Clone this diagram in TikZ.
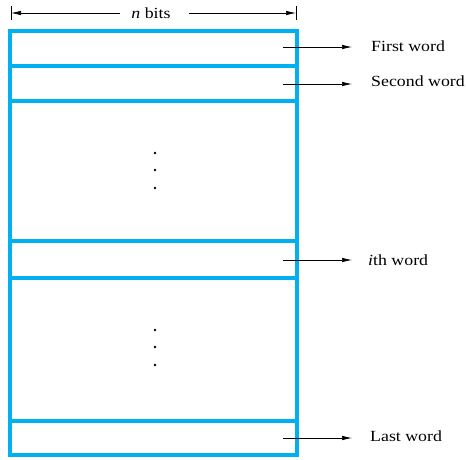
\documentclass[tikz,border=0pt]{standalone}
\usepackage{fontspec}
\setmainfont{Liberation Serif}[FakeStretch=1.15]
\usetikzlibrary{arrows.meta}
\definecolor{memblue}{RGB}{0,176,240}
\begin{document}
\begin{tikzpicture}[x=1pt,y=-1pt,
  wall/.style={draw=memblue,line width=3.6pt},
  ptr/.style={draw=black,line width=0.7pt,-{Latex[length=10pt,width=4.5pt]}},
  lbl/.style={anchor=west,inner sep=0pt,font=\fontsize{15.5}{18}\selectfont},
  dotmark/.style={circle,fill=black,inner sep=0pt,minimum size=2.8pt}]
\useasboundingbox (0,0) rectangle (466,459);
% memory rows
\draw[wall] (10,31) rectangle (297,455);
\foreach \yy in {66,101,241,278,421} \draw[wall] (10,\yy) -- (297,\yy);
% width indicator
\node[inner sep=1pt,font=\fontsize{15.5}{18}\selectfont] (nb) at (151,13) {\textit{n} bits};
\coordinate (lb) at (11,13);
\coordinate (rb) at (296,13);
\draw[line width=0.7pt] (11,6) -- (11,20);
\draw[line width=0.7pt] (296,6) -- (296,20);
\draw[ptr] (120,13) -- (lb);
\draw[ptr] (189,13) -- (rb);
% dots
\foreach \yy in {153,170,188,330,347,365} \node[dotmark] at (155,\yy) {};
% pointers
\coordinate (s1) at (283,47);
\coordinate (s2) at (283,84);
\coordinate (s3) at (283,260);
\coordinate (s4) at (283,438);
\node[lbl] (w1) at (371,46) {First word};
\node[lbl] (w2) at (371,81) {Second word};
\node[lbl] (w3) at (368,260) {\textit{i}th word};
\node[lbl] (w4) at (370,436) {Last word};
\draw[ptr] (s1) -- ([xshift=-19pt]w1.west |- s1);
\draw[ptr] (s2) -- ([xshift=-19pt]w2.west |- s2);
\draw[ptr] (s3) -- ([xshift=-16pt]w3.west |- s3);
\draw[ptr] (s4) -- ([xshift=-18pt]w4.west |- s4);
\end{tikzpicture}
\end{document}
